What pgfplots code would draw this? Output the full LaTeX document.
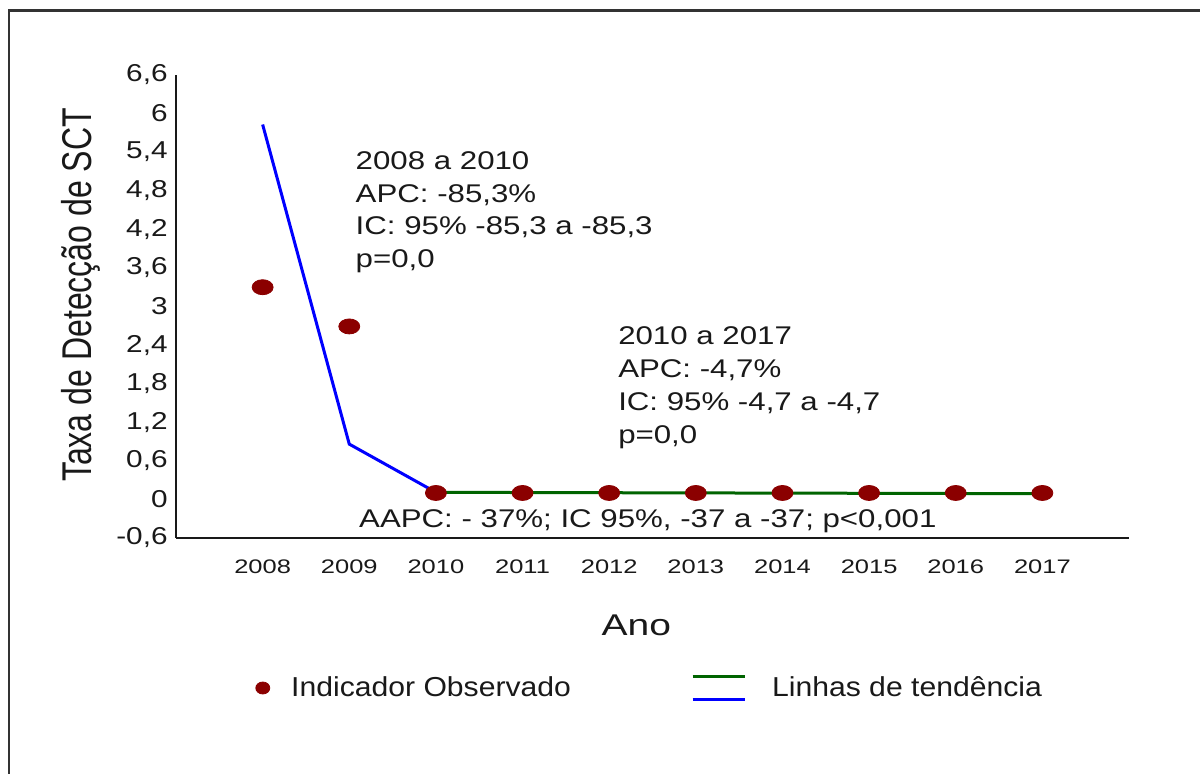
\documentclass[border=0pt]{standalone}
\usepackage{fontspec}
\setmainfont{Liberation Sans}[FakeStretch=1.3]
\newfontfamily\annfont{Liberation Sans}[FakeStretch=1.22]
\newfontfamily\ylabfont{Liberation Sans}[FakeStretch=0.77]
\newfontfamily\legfont{Liberation Sans}[FakeStretch=1.1]
\usepackage{pgfplots}
\pgfplotsset{compat=1.18}
\definecolor{dred}{RGB}{139,0,0}
\definecolor{dgreen}{RGB}{0,100,0}
\definecolor{tblue}{RGB}{0,0,255}
\definecolor{txt}{RGB}{25,25,25}
\begin{document}
\begin{tikzpicture}
\path[use as bounding box] (0,0) rectangle (600pt,387pt);
\draw[line width=1.2pt, black!80] (4.5pt,0pt) -- (4.5pt,381.75pt) -- (600pt,381.75pt);
\begin{axis}[
  at={(88pt,118pt)}, anchor=south west,
  scale only axis, width=476.5pt, height=231.5pt,
  xmin=2007, xmax=2018, ymin=-0.6, ymax=6.6,
  clip=false,
  axis x line=bottom, axis y line=left,
  axis line style={-, line width=1.1pt, black!90},
  major tick length=0pt,
  xtick={2008,2009,2010,2011,2012,2013,2014,2015,2016,2017},
  xticklabels={2008,2009,2010,2011,2012,2013,2014,2015,2016,2017},
  ytick={-0.6,0,0.6,1.2,1.8,2.4,3,3.6,4.2,4.8,5.4,6,6.6},
  yticklabels={{-0,6},0,{0,6},{1,2},{1,8},{2,4},3,{3,6},{4,2},{4,8},{5,4},6,{6,6}},
  xticklabel style={font=\fontsize{9.8}{11}\selectfont, text=txt, anchor=center, inner sep=0pt, yshift=-14.5pt},
  yticklabel style={font=\annfont\fontsize{12.2}{13}\selectfont, text=txt, anchor=east, inner sep=0pt, xshift=-4pt},
  ylabel={Taxa de Detecção de SCT},
  ylabel style={at={(axis description cs:-0.100,0.525)}, anchor=center, inner sep=0pt, text=txt,
    font=\ylabfont\fontsize{20.8}{24}\selectfont},
  xlabel={Ano},
  xlabel style={at={(axis description cs:0.483,-0.188)}, anchor=center, inner sep=0pt, text=txt,
    font=\fontsize{15}{18}\selectfont},
  legend columns=2,
  legend cell align=left,
  legend style={at={(0.0829,-0.324)}, anchor=west, draw=none, fill=none, inner sep=0pt,
    font=\legfont\fontsize{13.7}{16}\selectfont, text=txt,
    nodes={inner sep=0pt},
    /tikz/every odd column/.append style={column sep=8.5pt},
    /tikz/every even column/.append style={column sep=0pt}},
]
\addplot[only marks, mark=*, mark size=3.75pt, mark options={xscale=1.4, fill=dred, draw=dred},
  legend image code/.code={\fill[dred] (0pt,0pt) ellipse (3.5pt and 3pt); \path (5.5pt,0pt);}]
  coordinates {(2008,3.30) (2009,2.69) (2010,0.10) (2011,0.10) (2012,0.10) (2013,0.10)
               (2014,0.10) (2015,0.10) (2016,0.10) (2017,0.10)};
\addlegendentry{\makebox[200pt][l]{Indicador Observado}}
\addplot[tblue, line width=1.5pt, forget plot] coordinates {(2008,5.83) (2009,0.86) (2010,0.11)};
\addplot[dgreen, line width=1.5pt, forget plot] coordinates {(2010,0.11) (2011,0.107) (2012,0.104) (2013,0.101)
               (2014,0.098) (2015,0.095) (2016,0.092) (2017,0.09)};
\addlegendimage{legend image code/.code={\draw[dgreen,line width=1.5pt] (0pt,5.75pt) -- (26pt,5.75pt);
    \draw[tblue,line width=1.5pt] (0pt,-5.75pt) -- (26pt,-5.75pt); \path (31pt,0pt);}}
\addlegendentry{Linhas de tendência}
\begin{scope}[every node/.style={anchor=base west, inner sep=0pt, text=txt, font=\annfont\fontsize{12.8}{14}\selectfont}]
\node at (axis cs:2009.07,5.138) {2008 a 2010};
\node at (axis cs:2009.07,4.625) {APC: -85,3\%};
\node at (axis cs:2009.07,4.112) {IC: 95\% -85,3 a -85,3};
\node at (axis cs:2009.07,3.599) {p=0,0};
\node at (axis cs:2012.10,2.402) {2010 a 2017};
\node at (axis cs:2012.10,1.889) {APC: -4,7\%};
\node at (axis cs:2012.10,1.376) {IC: 95\% -4,7 a -4,7};
\node at (axis cs:2012.10,0.862) {p=0,0};
\node at (axis cs:2009.11,-0.444) {AAPC: - 37\%; IC 95\%, -37 a -37; p<0,001};
\end{scope}
\end{axis}
\end{tikzpicture}
\end{document}
